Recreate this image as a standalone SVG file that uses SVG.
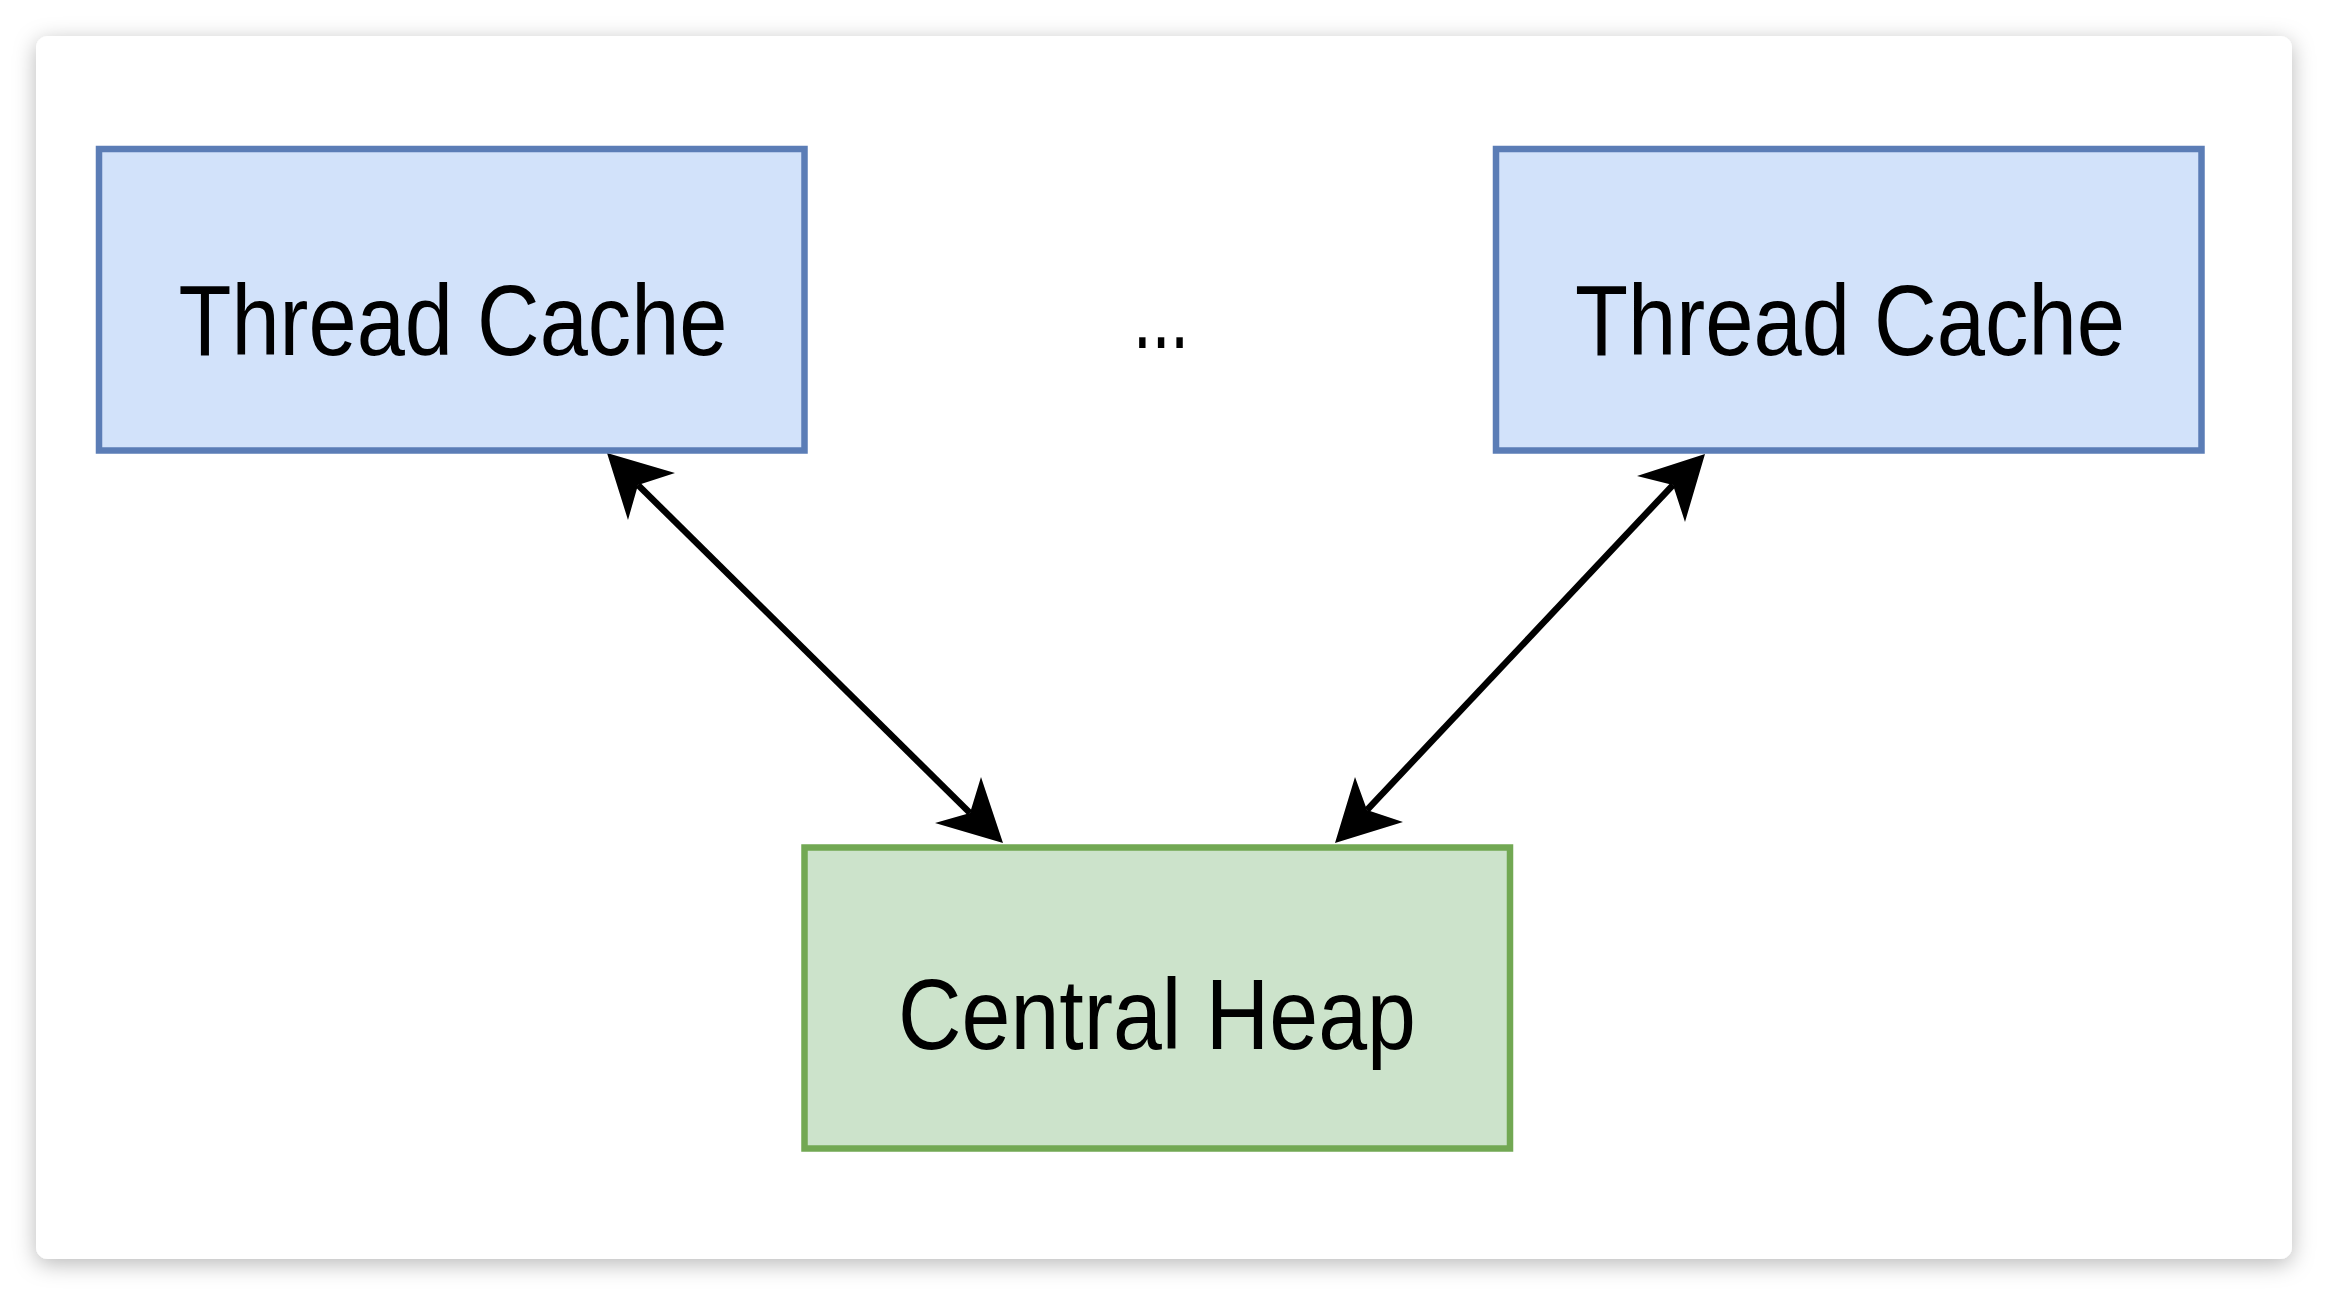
<svg xmlns="http://www.w3.org/2000/svg" width="2328" height="1296" viewBox="0 0 2328 1296">
  <defs>
    <filter id="shadow" x="-5%" y="-5%" width="110%" height="112%">
      <feDropShadow dx="0" dy="5" stdDeviation="11" flood-color="#000" flood-opacity="0.28"/>
    </filter>
    <style>
      .blue { fill: #d2e2fa; stroke: #5b7db6; stroke-width: 6.5; }
      .green { fill: #cce3cb; stroke: #72a853; stroke-width: 6.5; }
      .label { font-family: "Comic Sans MS", "Liberation Sans", sans-serif; font-size: 100px; fill: #000; text-anchor: middle; }
      .edge { stroke: #000; stroke-width: 6.5; fill: none; }
      .head { fill: #000; stroke: none; }
    </style>
  </defs>
  <rect x="0" y="0" width="2328" height="1296" fill="#ffffff"/>
  <rect x="36" y="36" width="2256" height="1223" rx="12" ry="12" fill="#ffffff" filter="url(#shadow)"/>

  <g id="connectors">
    <line class="edge" x1="638" y1="485" x2="970" y2="813"/>
    <path class="head" d="M607,453 L675,473 L638,485 L628,520 Z"/>
    <path class="head" d="M1003,843 L981,777 L970,813 L935,823 Z"/>
    <line class="edge" x1="1673" y1="485" x2="1367" y2="810"/>
    <path class="head" d="M1705,454 L1637,476 L1673,485 L1685,522 Z"/>
    <path class="head" d="M1335,843 L1355,777 L1367,810 L1403,822 Z"/>
  </g>

  <g id="thread-cache-1">
    <rect class="blue" x="99" y="149" width="705.5" height="301.5"/>
    <text class="label" x="453" y="355" textLength="549" lengthAdjust="spacingAndGlyphs">Thread Cache</text>
  </g>

  <g id="ellipsis">
    <text class="label" x="1161" y="348" textLength="56" lengthAdjust="spacingAndGlyphs">...</text>
  </g>

  <g id="thread-cache-2">
    <rect class="blue" x="1496" y="149" width="705.5" height="301.5"/>
    <text class="label" x="1850" y="355" textLength="550" lengthAdjust="spacingAndGlyphs">Thread Cache</text>
  </g>

  <g id="central-heap">
    <rect class="green" x="804.5" y="847.5" width="705.5" height="301"/>
    <text class="label" x="1157" y="1049" textLength="518" lengthAdjust="spacingAndGlyphs">Central Heap</text>
  </g>
</svg>
